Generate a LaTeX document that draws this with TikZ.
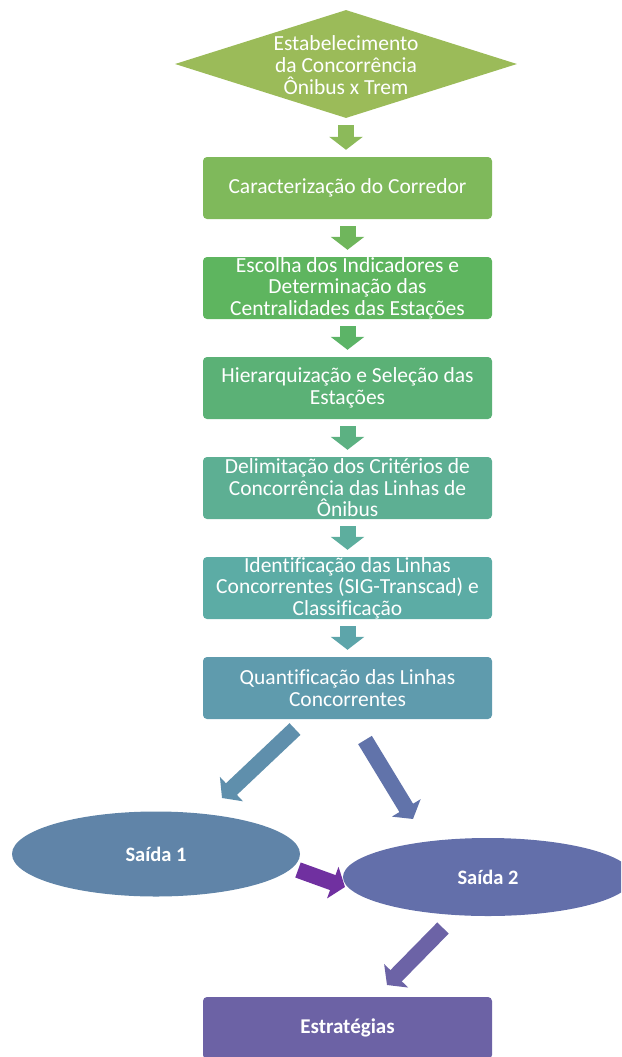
\documentclass[tikz,border=0pt]{standalone}
\usepackage{fontspec}
\setmainfont[Ligatures={NoCommon}]{Carlito}
\usetikzlibrary{arrows.meta,shapes.geometric}
\definecolor{cd}{HTML}{9BBB59}
\definecolor{ca0}{HTML}{8CBA5A}
\definecolor{cb1}{HTML}{7FB95B}
\definecolor{ca1}{HTML}{6FB65C}
\definecolor{cb2}{HTML}{5EB55F}
\definecolor{ca2}{HTML}{5CB467}
\definecolor{cb3}{HTML}{5BB176}
\definecolor{ca3}{HTML}{5CB182}
\definecolor{cb4}{HTML}{5DAF93}
\definecolor{ca4}{HTML}{5DAE9E}
\definecolor{cb5}{HTML}{5CACA5}
\definecolor{ca5}{HTML}{5DA5AA}
\definecolor{cb6}{HTML}{5F9BAD}
\definecolor{caA}{HTML}{5F8FAC}
\definecolor{cs1}{HTML}{6084A8}
\definecolor{caB}{HTML}{6173AA}
\definecolor{cs2}{HTML}{636FAA}
\definecolor{cpur}{HTML}{7030A0}
\definecolor{caD}{HTML}{6C63A6}
\definecolor{cest}{HTML}{6C62A5}
\begin{document}
\begin{tikzpicture}[x=1pt,y=-1pt,
  box/.style={rounded corners=4pt, minimum width=289pt, minimum height=62pt,
    inner sep=0pt, text=white, align=center,
    font=\fontsize{21.5}{21.5}\selectfont},
  ell/.style={ellipse, inner sep=0pt, text=white,
    font=\fontsize{20.5}{22}\selectfont\bfseries},
  blk/.style={line width=16pt, -{Triangle[width=33pt,length=13pt]}},
  txt/.style={text=white, align=center, inner sep=0pt,
    font=\fontsize{21.5}{22}\selectfont}]
\useasboundingbox (0,0) rectangle (621,1057);
\clip (0,0) rectangle (621,1057);
% diamond
\node[diamond, fill=cd, minimum width=342pt, minimum height=108pt, inner sep=0pt] (d) at (346,64) {};
\node[txt] (dt) at (346,65) {Estabelecimento\\da Concorrência\\Ônibus x Trem};
% boxes
\node[box, fill=cb1] (b1) at (347.5,188) {Caracterização do Corredor};
\node[box, fill=cb2] (b2) at (347.5,288) {Escolha dos Indicadores e\\Determinação das\\Centralidades das Estações};
\node[box, fill=cb3] (b3) at (347.5,388) {Hierarquização e Seleção das\\Estações};
\node[box, fill=cb4] (b4) at (347.5,488) {Delimitação dos Critérios de\\Concorrência das Linhas de\\Ônibus};
\node[box, fill=cb5] (b5) at (347.5,588) {Identificação das Linhas\\Concorrentes (SIG-Transcad) e\\Classificação};
\node[box, fill=cb6] (b6) at (347.5,688) {Quantificação das Linhas\\Concorrentes};
\node[ell, fill=cs1, minimum width=288pt, minimum height=85pt] (s1) at (156,854) {Saída 1};
\node[ell, fill=cs2, minimum width=290pt, minimum height=78pt] (s2) at (488,877) {Saída 2};
\node[box, fill=cest, font=\fontsize{21}{21.5}\selectfont\bfseries] (est) at (347.5,1028) {Estratégias};
% vertical arrows
\draw[blk, ca0, shorten <=7pt, shorten >=7pt] (d.south) -- (d.south |- b1.north);
\draw[blk, ca1, shorten <=7pt, shorten >=7pt] (b1.south) -- (b2.north);
\draw[blk, ca2, shorten <=7pt, shorten >=7pt] (b2.south) -- (b3.north);
\draw[blk, ca3, shorten <=7pt, shorten >=7pt] (b3.south) -- (b4.north);
\draw[blk, ca4, shorten <=7pt, shorten >=7pt] (b4.south) -- (b5.north);
\draw[blk, ca5, shorten <=7pt, shorten >=7pt] (b5.south) -- (b6.north);
% diagonal arrows
\coordinate (aAs) at (295,729);
\coordinate (aAe) at (222,798);
\coordinate (aBs) at (365,740);
\coordinate (aBe) at (413,819);
\coordinate (aCs) at (298,870);
\coordinate (aCe) at (345,887);
\coordinate (aDs) at (443,928);
\coordinate (aDe) at (387,985);
\draw[blk, caA] (aAs) -- (aAe);
\draw[blk, caB] (aBs) -- (aBe);
\draw[blk, cpur] (aCs) -- (aCe);
\draw[blk, caD] (aDs) -- (aDe);
\end{tikzpicture}
\end{document}
